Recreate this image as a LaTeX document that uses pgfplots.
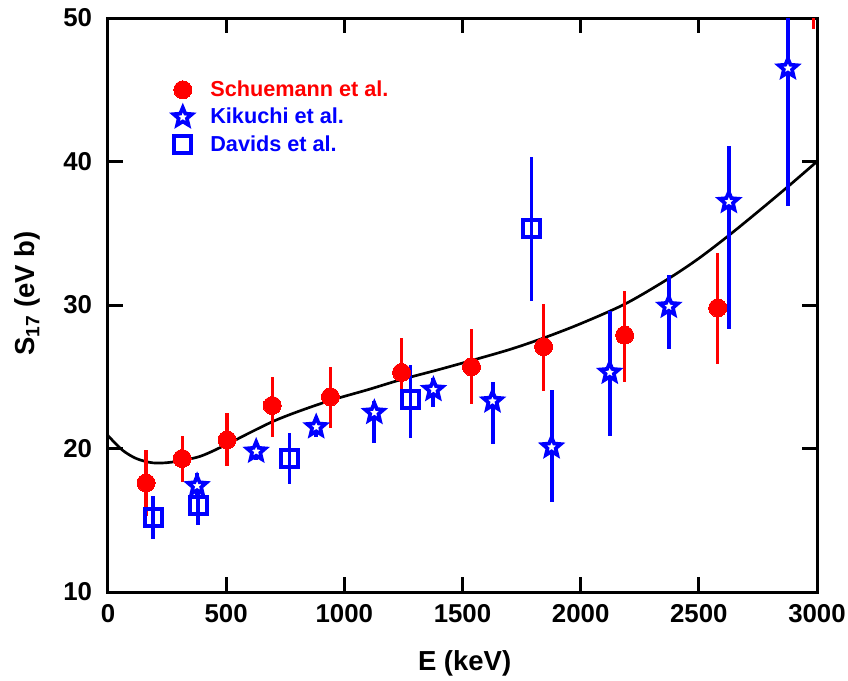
\documentclass[border=0pt]{standalone}
\usepackage{fontspec}
\setmainfont{Liberation Sans}
\usepackage{pgfplots}
\pgfplotsset{compat=1.18}
\usepackage{pgfplotstable}

\pgfdeclareplotmark{fivestar}{%
  \pgfpathmoveto{\pgfpointpolar{90}{\pgfplotmarksize}}%
  \pgfpathlineto{\pgfpointpolar{126}{0.45\pgfplotmarksize}}%
  \pgfpathlineto{\pgfpointpolar{162}{\pgfplotmarksize}}%
  \pgfpathlineto{\pgfpointpolar{198}{0.45\pgfplotmarksize}}%
  \pgfpathlineto{\pgfpointpolar{234}{\pgfplotmarksize}}%
  \pgfpathlineto{\pgfpointpolar{270}{0.45\pgfplotmarksize}}%
  \pgfpathlineto{\pgfpointpolar{306}{\pgfplotmarksize}}%
  \pgfpathlineto{\pgfpointpolar{342}{0.45\pgfplotmarksize}}%
  \pgfpathlineto{\pgfpointpolar{18}{\pgfplotmarksize}}%
  \pgfpathlineto{\pgfpointpolar{54}{0.45\pgfplotmarksize}}%
  \pgfpathclose
  \pgfusepathqfillstroke}

\pgfplotstableread{
x y ep em
161 17.6 2.3 2.3
314 19.3 1.6 1.6
504 20.6 1.9 1.8
695 23.0 2.0 2.2
941 23.6 2.1 2.2
1242 25.3 2.4 2.3
1538 25.7 2.6 2.6
1843 27.1 3.0 3.1
2186 27.9 3.1 3.3
2580 29.8 3.8 3.9
2985 53.0 4.0 3.8
}\schuemann

\pgfplotstableread{
x y ep em
377 17.4 0.9 0.9
627 19.8 0.6 0.6
881 21.5 0.7 0.7
1127 22.5 0.8 2.1
1377 24.1 0.8 1.2
1627 23.3 1.3 3.0
1877 20.1 4.0 3.8
2123 25.3 4.3 4.4
2373 29.9 2.2 3.0
2627 37.2 3.9 8.85
2877 46.5 9.6 9.6
}\kikuchi

\pgfplotstableread{
x y ep em
191 15.2 1.5 1.5
381 16.0 1.3 1.3
767 19.3 1.8 1.8
1280 23.4 2.45 2.65
1792 35.3 5.0 5.0
}\davids

\pgfplotstableread{
x y
0 20.9
60 19.9
120 19.3
190 19.0
270 19.05
389 19.45
504 20.3
600 21.1
700 21.9
800 22.55
941 23.35
1100 24.1
1240 24.8
1400 25.5
1542 26.15
1700 26.9
1843 27.7
2000 28.7
2191 30.1
2373 31.85
2500 33.25
2627 34.85
2750 36.5
2877 38.25
3000 40.0
}\curve

\definecolor{pred}{RGB}{255,0,0}
\definecolor{pblue}{RGB}{0,0,255}

\begin{document}
\begin{tikzpicture}
\useasboundingbox (-64.8pt,-52.8pt) rectangle (444pt,355.2pt);
\begin{axis}[
  scale only axis,
  width=425.4pt, height=344.4pt,
  xmin=0, xmax=3000, ymin=10, ymax=50,
  xtick={0,500,...,3000}, ytick={10,20,...,50},
  tick align=inside,
  major tick length=9pt,
  every major tick/.append style={line width=1.8pt, black},
  axis line style={line width=1.8pt},
  /pgf/number format/assume math mode=true,
  /pgf/number format/1000 sep={},
  tick label style={font=\bfseries\fontsize{15.5}{18}\selectfont},
  yticklabel style={xshift=-6pt},
  xticklabel style={yshift=-4pt},
  xlabel={E (keV)},
  ylabel={S\textsubscript{17} (eV b)},
  every axis x label/.style={at={(axis description cs:0.503,-0.125)}, anchor=center, font=\bfseries\fontsize{16.5}{19}\selectfont},
  every axis y label/.style={at={(axis description cs:-0.113,0.52)}, anchor=center, rotate=90, font=\bfseries\fontsize{16.5}{19}\selectfont},
  legend style={draw=none, fill=none, at={(axis description cs:0.085,0.903)}, anchor=north west,
    font=\bfseries\fontsize{13}{15}\selectfont, row sep=1.5pt,
    /tikz/every odd column/.append style={column sep=9pt}},
  legend cell align=left,
]
\addplot[black, line width=1.6pt, smooth, tension=0.5, forget plot] table[x=x,y=y] {\curve};

\addplot[only marks, mark=*, mark size=5.4pt, color=pred, mark options={fill=pred, draw=pred, line width=0pt},
  error bars/.cd, y dir=both, y explicit, error mark=none,
  error bar style={line width=2pt, pred}]
  table[x=x, y=y, y error plus=ep, y error minus=em] {\schuemann};
\addlegendentry{\textcolor{pred}{Schuemann et al.}}

\addplot[only marks, mark=fivestar, mark size=5.8pt, color=pblue, mark options={fill=white, draw=pblue, line width=2.2pt, line join=miter},
  error bars/.cd, y dir=both, y explicit, error mark=none,
  error bar style={line width=2.4pt, pblue}]
  table[x=x, y=y, y error plus=ep, y error minus=em] {\kikuchi};
\addlegendentry{\textcolor{pblue}{Kikuchi et al.}}

\addplot[only marks, mark=square, mark size=5.1pt, color=pblue, mark options={fill=white, draw=pblue, line width=2.4pt},
  error bars/.cd, y dir=both, y explicit, error mark=none,
  error bar style={line width=2pt, pblue}]
  table[x=x, y=y, y error plus=ep, y error minus=em] {\davids};
\addlegendentry{\textcolor{pblue}{Davids et al.}}
\end{axis}
\end{tikzpicture}
\end{document}
